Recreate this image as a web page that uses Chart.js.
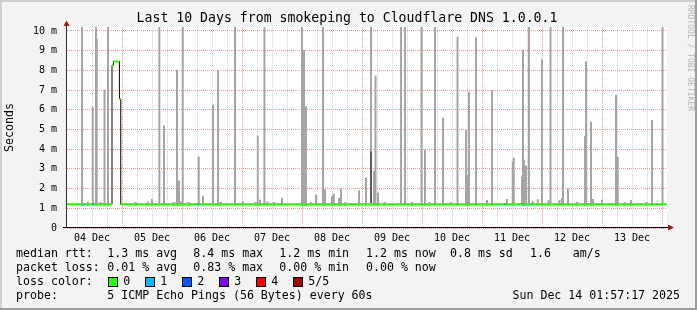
<!DOCTYPE html>
<html>
<head>
<meta charset="utf-8">
<script src="https://cdn.jsdelivr.net/npm/chart.js@4/dist/chart.umd.min.js"></script>
<style>
  html, body { margin: 0; padding: 0; background: #f3f3f3; }
  #wrap { width: 697px; height: 310px; }
</style>
</head>
<body>
<div id="wrap"><canvas id="chart" width="697" height="310"></canvas></div>
<script>
// x values are hours since 04 Dec 00:00, y values are milliseconds

// smoke: tall spikes (top in ms, 10.2 = clipped at the top of the graph)
const spikeHours = [8.0, 12.3, 13.6, 13.9, 17.0, 18.4, 38.95, 40.8, 46.0, 46.8, 48.3, 54.7, 56.4,
  60.4, 62.4, 69.2, 78.3, 80.96, 96.0, 96.8, 97.6, 101.6, 104.4, 105.2, 108.0, 108.7, 110.8,
  111.6, 118.8, 121.6, 123.6, 124.8, 125.4, 126.4, 135.6, 137.2, 143.8, 145.2, 149.2, 152.4,
  158.2, 161.6, 162.4, 162.8, 165.6, 172.0, 180.3, 180.7, 184.0, 184.4, 184.8, 185.6, 186.8,
  192.0, 195.4, 200.4, 202.4, 209.2, 209.6, 211.6, 221.6, 222.3, 236.0, 240.2];
const spikeTops = [10.2, 6.14, 10.2, 9.6, 7.0, 10.2, 10.2, 5.18, 8.02, 2.39, 10.2, 3.6, 1.62,
  6.24, 7.99, 10.2, 4.67, 10.2, 10.2, 9.03, 6.16, 1.68, 10.2, 1.95, 1.6, 1.72, 1.5,
  1.98, 1.9, 2.54, 10.2, 2.89, 7.72, 1.78, 10.2, 10.2, 10.2, 3.96, 10.2, 5.58,
  9.7, 4.97, 2.69, 6.9, 9.66, 6.99, 3.37, 3.55, 2.59, 9.03, 3.45, 3.15, 10.2,
  8.53, 10.2, 10.2, 1.98, 4.67, 8.43, 5.38, 6.74, 3.6, 5.47, 10.2];
const spikeBase = 1.15;

// small smoke bumps just above the median line
const bumpHours = [10.4, 15.5, 29.5, 34.3, 36.0, 44.7, 47.5, 50.7, 63.5, 72.3, 77.5, 79.2, 82.2,
  84.8, 88.0, 99.5, 113.3, 129.0, 140.0, 147.0, 155.5, 170.0, 178.0, 188.3, 190.3, 194.6,
  199.0, 200.0, 206.0, 212.4, 216.0, 225.0, 227.6, 233.8];
const bumpTops = [1.3, 1.3, 1.3, 1.33, 1.45, 1.3, 1.35, 1.3, 1.3, 1.34, 1.3, 1.42, 1.33,
  1.3, 1.52, 1.3, 1.3, 1.3, 1.3, 1.3, 1.3, 1.4, 1.45, 1.35, 1.45, 1.4,
  1.4, 1.5, 1.3, 1.45, 1.4, 1.3, 1.4, 1.3];

// darker part of the smoke (several pings overlapping)
const darkHours = [123.6];
const darkLows = [1.3];
const darkTops = [3.87];

// median rtt (step values)
const medianHours = [2.0, 20.0, 20.56, 22.96, 23.5, 241.8];
const medianValues = [1.2, 8.25, 8.45, 6.55, 1.2, 1.2];

// places where the median is coloured for 1 lost ping
const loss1Hours = [8.8, 12.3, 54.4, 177.2, 184.8, 187.9];

const dayLabels = ['04 Dec', '05 Dec', '06 Dec', '07 Dec', '08 Dec', '09 Dec', '10 Dec', '11 Dec', '12 Dec', '13 Dec'];
const yTickLabels = ['0', '1 m', '2 m', '3 m', '4 m', '5 m', '6 m', '7 m', '8 m', '9 m', '10 m'];

const lossColors = ['#26ff00', '#00b8ff', '#0059ff', '#7e00ff', '#ff0000', '#a00000'];
const lossNames = ['0', '1', '2', '3', '4', '5/5'];

const rttStats = ['1.3 ms avg', '8.4 ms max', '1.2 ms min', '1.2 ms now', '0.8 ms sd', '1.6', 'am/s'];
const lossStats = ['0.01 % avg', '0.83 % max', '0.00 % min', '0.00 % now'];

const mono = '"DejaVu Sans Mono", monospace';
const majorGrid = 'rgb(238, 150, 150)';
const minorGrid = 'rgb(205, 205, 205)';

// grid ticks: every 6 hours on x, every 0.5 ms on y
const xTickHours = [];
for (let h = 6; h <= 240; h += 6) xTickHours.push(h);
const yTickValues = [];
for (let i = 0; i <= 20; i++) yTickValues.push(i / 2);
const xGridColors = xTickHours.map(h => (h % 24 === 0 ? majorGrid : minorGrid));
const yGridColors = yTickValues.map(v => (Number.isInteger(v) ? majorGrid : minorGrid));

// build the green median as flat pieces only (the jumps are drawn in black)
const greenData = [];
for (let i = 0; i < medianHours.length - 1; i++) {
  greenData.push({ x: medianHours[i], y: medianValues[i] });
  greenData.push({ x: medianHours[i + 1], y: medianValues[i] });
  greenData.push({ x: medianHours[i + 1], y: null });
}
const cyanData = [];
loss1Hours.forEach(h => {
  cyanData.push({ x: h - 0.3, y: 1.2 }, { x: h + 0.3, y: 1.2 }, { x: h + 0.3, y: null });
});

const framePlugin = {
  id: 'frame',
  beforeDraw(chart) {
    const ctx = chart.ctx, a = chart.chartArea, w = chart.width, h = chart.height;
    ctx.save();
    ctx.fillStyle = '#f3f3f3';
    ctx.fillRect(0, 0, w, h);
    ctx.fillStyle = '#cfcfcf';
    ctx.fillRect(0, 0, w, 2);
    ctx.fillRect(0, 0, 2, h);
    ctx.fillStyle = '#9c9c9c';
    ctx.fillRect(0, h - 2, w, 2);
    ctx.fillRect(w - 2, 0, 2, h);
    ctx.fillStyle = '#ffffff';
    ctx.fillRect(a.left, a.top, a.right - a.left, a.bottom - a.top);
    ctx.restore();
  },
  afterDatasetsDraw(chart) {
    const ctx = chart.ctx, a = chart.chartArea;
    const yb = Math.round(a.bottom) - 0.5;
    const xl = Math.round(a.left) - 0.5;
    ctx.save();
    ctx.lineWidth = 1;
    ctx.strokeStyle = '#000';
    ctx.beginPath();
    ctx.moveTo(63, yb);
    ctx.lineTo(a.right + 1, yb);
    ctx.stroke();
    ctx.strokeStyle = '#333';
    ctx.beginPath();
    ctx.moveTo(xl, a.bottom);
    ctx.lineTo(xl, 25);
    ctx.stroke();
    ctx.fillStyle = '#9a1a1a';
    ctx.beginPath();
    ctx.moveTo(xl - 3, 26); ctx.lineTo(xl + 3, 26); ctx.lineTo(xl, 20.5);
    ctx.closePath(); ctx.fill();
    ctx.beginPath();
    ctx.moveTo(a.right + 1, yb - 3); ctx.lineTo(a.right + 1, yb + 3); ctx.lineTo(a.right + 7, yb);
    ctx.closePath(); ctx.fill();
    ctx.restore();
  },
  afterDraw(chart) {
    const ctx = chart.ctx;
    ctx.save();
    ctx.fillStyle = '#000';
    ctx.textBaseline = 'middle';
    ctx.textAlign = 'center';
    ctx.font = '13.2px ' + mono;
    ctx.fillText('Last 10 Days from smokeping to Cloudflare DNS 1.0.0.1', 347, 19);

    ctx.textAlign = 'left';
    ctx.font = '11.6px ' + mono;
    const cols = [107.3, 193.3, 279.3, 366, 450, 530, 572.7];
    ctx.fillText('median rtt:', 16, 254.3);
    rttStats.forEach((s, i) => ctx.fillText(s, cols[i], 254.3));
    ctx.fillText('packet loss:', 16, 268.3);
    lossStats.forEach((s, i) => ctx.fillText(s, cols[i], 268.3));
    ctx.fillText('loss color:', 16, 282.3);
    lossColors.forEach((c, i) => {
      const x = 108.5 + i * 37;
      ctx.fillStyle = c;
      ctx.fillRect(x, 277.5, 9, 9);
      ctx.strokeStyle = '#000';
      ctx.lineWidth = 1;
      ctx.strokeRect(x, 277.5, 9, 9);
      ctx.fillStyle = '#000';
      ctx.fillText(lossNames[i], 123.3 + i * 37, 282.3);
    });
    ctx.fillText('probe:', 16, 296);
    ctx.fillText('5 ICMP Echo Pings (56 Bytes) every 60s', 107.3, 296);
    ctx.textAlign = 'right';
    ctx.fillText('Sun Dec 14 01:57:17 2025', 680, 296);

    ctx.translate(690, 5);
    ctx.rotate(Math.PI / 2);
    ctx.textAlign = 'left';
    ctx.fillStyle = '#b4b4b4';
    ctx.font = '8px ' + mono;
    ctx.fillText('RRDTOOL / TOBI OETIKER', 0, 0);
    ctx.restore();
  }
};

new Chart(document.getElementById('chart'), {
  type: 'bar',
  plugins: [framePlugin],
  data: {
    datasets: [
      {
        type: 'line', data: cyanData, borderColor: '#00b8ff', borderWidth: 2,
        pointRadius: 0, spanGaps: false
      },
      {
        type: 'line', data: greenData, borderColor: '#26ff00', borderWidth: 2,
        pointRadius: 0, spanGaps: false
      },
      {
        type: 'line', stepped: 'before', borderColor: '#000', borderWidth: 1, pointRadius: 0,
        data: medianHours.map((h, i) => ({ x: h, y: medianValues[i] }))
      },
      {
        type: 'bar', grouped: false, barThickness: 1.3, backgroundColor: '#5a5a5a',
        data: darkHours.map((h, i) => ({ x: h, y: [darkLows[i], darkTops[i]] }))
      },
      {
        type: 'bar', grouped: false, barThickness: 1.3, backgroundColor: '#a4a4a4',
        data: bumpHours.map((h, i) => ({ x: h, y: [spikeBase, bumpTops[i]] }))
      },
      {
        type: 'bar', grouped: false, barThickness: 1.3, backgroundColor: '#a4a4a4',
        data: spikeHours.map((h, i) => ({ x: h, y: [spikeBase, spikeTops[i]] }))
      }
    ]
  },
  options: {
    responsive: false,
    animation: false,
    events: [],
    devicePixelRatio: 1,
    layout: { padding: { left: 0, top: 27, right: 30, bottom: 62 } },
    plugins: { legend: { display: false }, tooltip: { enabled: false }, title: { display: false } },
    scales: {
      x: {
        type: 'linear', min: 2, max: 242, offset: false,
        afterBuildTicks: s => { s.ticks = xTickHours.map(h => ({ value: h })); },
        afterFit: s => { s.height = 20; },
        ticks: {
          autoSkip: false, maxRotation: 0, minRotation: 0, padding: 4, color: '#000',
          font: { family: mono, size: 10 },
          callback: v => (v % 24 === 12 ? dayLabels[(v - 12) / 24] : '')
        },
        grid: { offset: false, drawTicks: false, lineWidth: 1, color: xGridColors },
        border: { display: false, dash: [1, 1] }
      },
      y: {
        min: 0, max: 10.2,
        afterBuildTicks: s => { s.ticks = yTickValues.map(v => ({ value: v })); },
        afterFit: s => { s.width = 67; },
        ticks: {
          padding: 10, color: '#000', font: { family: mono, size: 10 },
          callback: v => (Number.isInteger(v) ? yTickLabels[v] : '')
        },
        grid: { drawTicks: false, lineWidth: 1, color: yGridColors },
        border: { display: false, dash: [1, 1] },
        title: {
          display: true, text: 'Seconds', color: '#000',
          font: { family: mono, size: 11.6 }, padding: { top: 3.5, bottom: 0 }
        }
      }
    }
  }
});
</script>
</body>
</html>
